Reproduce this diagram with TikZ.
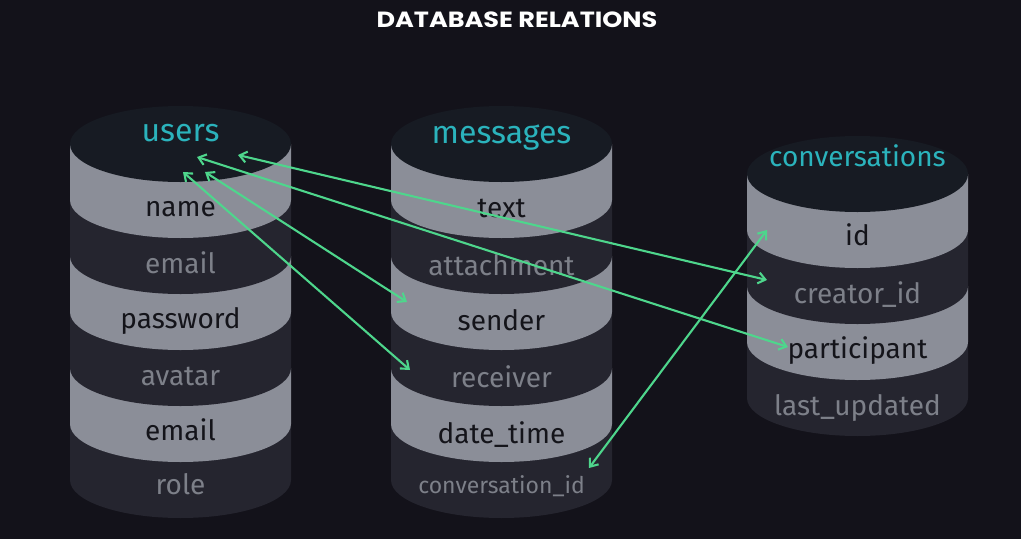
\documentclass[tikz,border=0pt]{standalone}
\usepackage{fontspec}
\setmainfont{Fira Sans}
\newfontfamily\titlefont{Poppins}[FakeStretch=1.16]
\usetikzlibrary{arrows.meta}
\definecolor{bgcol}{HTML}{13121A}
\definecolor{headcol}{HTML}{171B23}
\definecolor{lightcol}{HTML}{8B8E98}
\definecolor{darkcol}{HTML}{25252F}
\definecolor{tealcol}{HTML}{2BB3BC}
\definecolor{greycol}{HTML}{7D8089}
\definecolor{inkcol}{HTML}{14141A}
\definecolor{linkcol}{HTML}{4ED68C}
\begin{document}
\begin{tikzpicture}[x=1pt,y=-1pt,
  lightband/.style={fill=lightcol},
  darkband/.style={fill=darkcol},
  field/.style={anchor=base,inner sep=0pt,font=\fontsize{28}{30}\selectfont},
  onlight/.style={field,text=inkcol},
  ondark/.style={field,text=greycol},
  tablename/.style={anchor=base,inner sep=0pt,text=tealcol,font=\fontsize{32}{34}\selectfont},
  rel/.style={draw=linkcol,line width=2.1pt,{Straight Barb[length=7pt,width=11pt]}-{Straight Barb[length=7pt,width=11pt]}}]
\useasboundingbox (0,0) rectangle (1021,539);
\fill[bgcol] (0,0) rectangle (1021,539);

\node[anchor=base,inner sep=0pt,text=white,font=\titlefont\bfseries\fontsize{22}{24}\selectfont] (title) at (517,27) {DATABASE RELATIONS};

\fill[darkband]  (70,424) -- (70,480) arc[start angle=180,end angle=0,x radius=110.5,y radius=38] -- (291,424) -- cycle;
\fill[lightband] (70,368) -- (70,424) arc[start angle=180,end angle=0,x radius=110.5,y radius=38] -- (291,368) -- cycle;
\fill[darkband]  (70,312) -- (70,368) arc[start angle=180,end angle=0,x radius=110.5,y radius=38] -- (291,312) -- cycle;
\fill[lightband] (70,256) -- (70,312) arc[start angle=180,end angle=0,x radius=110.5,y radius=38] -- (291,256) -- cycle;
\fill[darkband]  (70,200) -- (70,256) arc[start angle=180,end angle=0,x radius=110.5,y radius=38] -- (291,200) -- cycle;
\fill[lightband] (70,144) -- (70,200) arc[start angle=180,end angle=0,x radius=110.5,y radius=38] -- (291,144) -- cycle;
\fill[headcol] (180.5,144) ellipse[x radius=110.5,y radius=38];

\node[tablename] (users) at (180.5,141) {users};
\node[onlight] (uname) at (180.5,216) {name};
\node[ondark] (uemail) at (180.5,273) {email};
\node[onlight] (upassword) at (180.5,328) {password};
\node[ondark] (uavatar) at (180.5,385) {avatar};
\node[onlight] (uemailb) at (180.5,440) {email};
\node[ondark] (urole) at (180.5,494) {role};

\fill[darkband]  (391,424) -- (391,480) arc[start angle=180,end angle=0,x radius=110.5,y radius=38] -- (612,424) -- cycle;
\fill[lightband] (391,368) -- (391,424) arc[start angle=180,end angle=0,x radius=110.5,y radius=38] -- (612,368) -- cycle;
\fill[darkband]  (391,312) -- (391,368) arc[start angle=180,end angle=0,x radius=110.5,y radius=38] -- (612,312) -- cycle;
\fill[lightband] (391,256) -- (391,312) arc[start angle=180,end angle=0,x radius=110.5,y radius=38] -- (612,256) -- cycle;
\fill[darkband]  (391,200) -- (391,256) arc[start angle=180,end angle=0,x radius=110.5,y radius=38] -- (612,200) -- cycle;
\fill[lightband] (391,144) -- (391,200) arc[start angle=180,end angle=0,x radius=110.5,y radius=38] -- (612,144) -- cycle;
\fill[headcol] (501.5,144) ellipse[x radius=110.5,y radius=38];

\node[tablename] (messages) at (501.5,143) {messages};
\node[onlight] (mtext) at (501.5,217) {text};
\node[ondark] (mattachment) at (501.5,275) {attachment};
\node[onlight] (msender) at (501.5,330) {sender};
\node[ondark] (mreceiver) at (501.5,387) {receiver};
\node[onlight] (mdatetime) at (501.5,443) {date\_time};
\node[ondark,font=\fontsize{23}{25}\selectfont] (mconvid) at (501.5,493) {conversation\_id};

\fill[darkband]  (747,342) -- (747,398) arc[start angle=180,end angle=0,x radius=110.5,y radius=38] -- (968,342) -- cycle;
\fill[lightband] (747,286) -- (747,342) arc[start angle=180,end angle=0,x radius=110.5,y radius=38] -- (968,286) -- cycle;
\fill[darkband]  (747,230) -- (747,286) arc[start angle=180,end angle=0,x radius=110.5,y radius=38] -- (968,230) -- cycle;
\fill[lightband] (747,174) -- (747,230) arc[start angle=180,end angle=0,x radius=110.5,y radius=38] -- (968,174) -- cycle;
\fill[headcol] (857.5,174) ellipse[x radius=110.5,y radius=38];

\node[tablename,font=\fontsize{28}{30}\selectfont] (conversations) at (857.5,166) {conversations};
\node[onlight] (cid) at (857.5,245) {id};
\node[ondark] (ccreator) at (857.5,303) {creator\_id};
\node[onlight] (cparticipant) at (857.5,358) {participant};
\node[ondark] (clastupdated) at (857.5,415) {last\_updated};

\coordinate (ucreator) at (238,155);
\coordinate (uparticipant) at (197,157);
\coordinate (usender) at (205,172);
\coordinate (ureceiver) at (183,172);
\coordinate (tocreator) at (767,280);
\coordinate (toparticipant) at (788,347);
\coordinate (tosender) at (407,302);
\coordinate (toreceiver) at (410,370);
\coordinate (fromconvid) at (589,468);
\coordinate (toid) at (767,230);

\draw[rel] (ucreator) -- (tocreator);
\draw[rel] (uparticipant) -- (toparticipant);
\draw[rel] (usender) -- (tosender);
\draw[rel] (ureceiver) -- (toreceiver);
\draw[rel] (fromconvid) -- (toid);
\end{tikzpicture}
\end{document}
